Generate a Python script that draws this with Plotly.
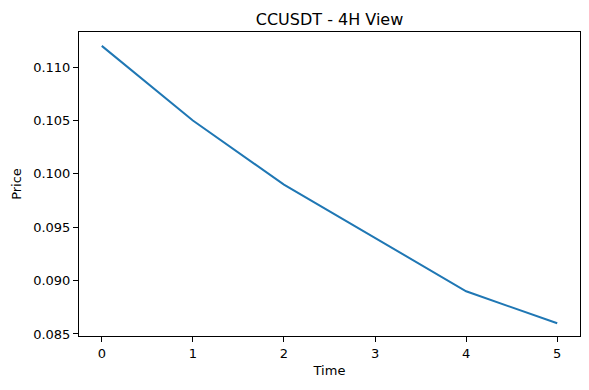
import plotly.graph_objects as go

time = [0, 1, 2, 3, 4, 5]
price = [0.112, 0.105, 0.099, 0.094, 0.089, 0.086]
yticks = [0.085, 0.090, 0.095, 0.100, 0.105, 0.110]
ytick_labels = ["0.085", "0.090", "0.095", "0.100", "0.105", "0.110"]

fig = go.Figure()
fig.add_trace(go.Scatter(x=time, y=price, mode="lines",
                         line=dict(color="#1f77b4", width=2)))

font = "DejaVu Sans"
fig.update_layout(
    width=589, height=390,
    margin=dict(l=79, r=9, t=32, b=54),
    paper_bgcolor="white", plot_bgcolor="white",
    showlegend=False,
    font=dict(family=font, size=13, color="black"),
    title=dict(text="CCUSDT - 4H View", x=0.5, xref="paper", xanchor="center",
               y=1, yref="paper", yanchor="bottom", pad=dict(b=7),
               font=dict(family=font, size=16, color="black")),
)
fig.update_xaxes(range=[-0.25, 5.25], tickvals=time, showgrid=False, zeroline=False,
                 showline=True, linecolor="black", linewidth=1, mirror=True,
                 ticks="outside", ticklen=5, tickcolor="black",
                 title=dict(text="Time", font=dict(size=13), standoff=6))
fig.update_yaxes(range=[0.08481, 0.1133], tickvals=yticks, ticktext=ytick_labels,
                 showgrid=False, zeroline=False,
                 showline=True, linecolor="black", linewidth=1, mirror=True,
                 ticks="outside", ticklen=5, tickcolor="black",
                 title=dict(text="Price", font=dict(size=13), standoff=8))

fig.write_html("out.html")
